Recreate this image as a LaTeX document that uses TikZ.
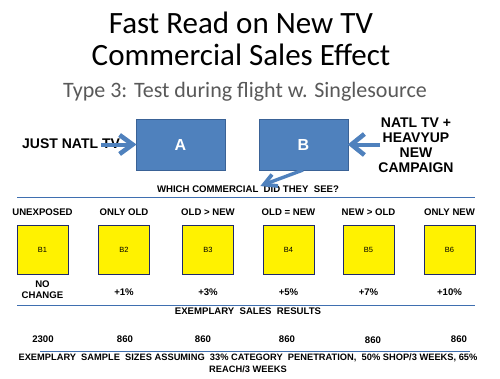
\documentclass[tikz,border=0pt]{standalone}
\usepackage{fontspec}
\setmainfont{Carlito}
\newfontfamily\arial{Liberation Sans}
\usetikzlibrary{calc}
\definecolor{boxblue}{HTML}{4F81BD}
\definecolor{boxedge}{HTML}{3A6296}
\definecolor{ruleblue}{HTML}{3F6FB0}
\definecolor{subgray}{HTML}{595959}
\definecolor{navy}{HTML}{1F2A6B}
\begin{document}
\begin{tikzpicture}[x=1pt,y=-1pt,
  bluebox/.style={draw=boxedge,line width=0.8pt,fill=boxblue,minimum width=89pt,minimum height=51pt,inner sep=0pt,text=white,font=\arial\bfseries\fontsize{16}{16}\selectfont},
  ybox/.style={draw=navy,line width=0.9pt,fill=yellow,minimum width=51pt,minimum height=49pt,inner sep=0pt,font=\arial\fontsize{7.5}{7.5}\selectfont},
  lbl/.style={font=\arial\bfseries\fontsize{9.6}{11}\selectfont,align=center,inner sep=0pt},
  big/.style={font=\arial\bfseries\fontsize{14}{15}\selectfont,align=center,inner sep=0pt},
  shaft/.style={draw=boxblue,line width=4pt},
  chevron/.style={draw=boxblue,line width=4.6pt,miter limit=4},
  hrule/.style={draw=ruleblue,line width=1pt}]
\useasboundingbox (0,0) rectangle (500,378);
\fill[white] (0,0) rectangle (500,378);
% titles
\node[font=\fontsize{31}{31}\selectfont,inner sep=0pt] (t1) at (241,23) {Fast Read on New TV};
\node[font=\fontsize{31}{31}\selectfont,inner sep=0pt] (t2) at (241,55) {Commercial Sales Effect};
\node[font=\fontsize{22}{22}\selectfont,text=subgray,inner sep=0pt] (t3) at (245,92) {Type 3: Test during flight w. Singlesource};
% blue boxes
\node[bluebox] (A) at (180.5,144.5) {A};
\node[bluebox] (B) at (303.5,144.5) {B};
\node[big,anchor=west] (just) at (22,144) {JUST NATL TV};
\coordinate (ja) at (101,144.5);
\draw[shaft] (ja) -- ($(A.west)+(-3,0)$);
\draw[chevron] ($(A.west)+(-16,-9.5)$) -- ($(A.west)+(-3,0)$) -- ($(A.west)+(-16,9.5)$);
\node[big] (heavy) at (416,145) {NATL TV +\\HEAVYUP\\NEW\\CAMPAIGN};
\coordinate (hb) at (380,144.5);
\draw[shaft] (hb) -- ($(B.east)+(3,0)$);
\draw[chevron] ($(B.east)+(16,-10.5)$) -- ($(B.east)+(3,0)$) -- ($(B.east)+(16,10.5)$);
\node[lbl] (which) at (248,189) {WHICH COMMERCIAL\ \ DID THEY\ \ SEE?};
\coordinate (bs) at (303,170);
\coordinate (wb) at (264,184.5);
\draw[shaft,line width=3.4pt] (bs) -- (wb);
\draw[chevron,line width=3.8pt] ($(wb)+(14,1.5)$) -- (wb) -- ($(wb)+(8,-10)$);
\coordinate (r1l) at (17,197); \coordinate (r1r) at (475,197);
\draw[hrule] (r1l) -- (r1r);
% columns
\foreach \i/\x/\t in {1/42.5/UNEXPOSED,2/124/ONLY OLD,3/208/OLD > NEW,4/288.5/OLD = NEW,5/368.5/NEW > OLD,6/449.5/ONLY NEW}{
  \node[lbl] (h\i) at (\x,212) {\t};
  \node[ybox] (b\i) at (\x,250) {B\i};
}
\node[lbl] (r1) at (42.5,290) {NO\\CHANGE};
\node[lbl] (r2) at (124,292) {+1\%};
\node[lbl] (r3) at (208,292) {+3\%};
\node[lbl] (r4) at (288.5,292) {+5\%};
\node[lbl] (r5) at (368.5,292) {+7\%};
\node[lbl] (r6) at (449.5,292) {+10\%};
\coordinate (r2l) at (17,305); \coordinate (r2r) at (475,305);
\draw[hrule] (r2l) -- (r2r);
\node[lbl] (esr) at (248,311) {EXEMPLARY\ \ SALES\ \ RESULTS};
\node[lbl] (n1) at (43,339) {2300};
\node[lbl] (n2) at (125,339) {860};
\node[lbl] (n3) at (203,339) {860};
\node[lbl] (n4) at (287,339) {860};
\node[lbl] (n5) at (373,340) {860};
\node[lbl] (n6) at (459,339) {860};
\coordinate (r3l) at (40,351); \coordinate (r3r) at (470,351);
\draw[hrule] (r3l) -- (r3r);
\node[lbl,font=\arial\bfseries\fontsize{9.3}{12}\selectfont] (foot) at (248,363) {EXEMPLARY\ \ SAMPLE\ \ SIZES ASSUMING\ \ 33\% CATEGORY\ \ PENETRATION,\ \ 50\% SHOP/3 WEEKS, 65\%\\REACH/3 WEEKS};
\end{tikzpicture}
\end{document}
